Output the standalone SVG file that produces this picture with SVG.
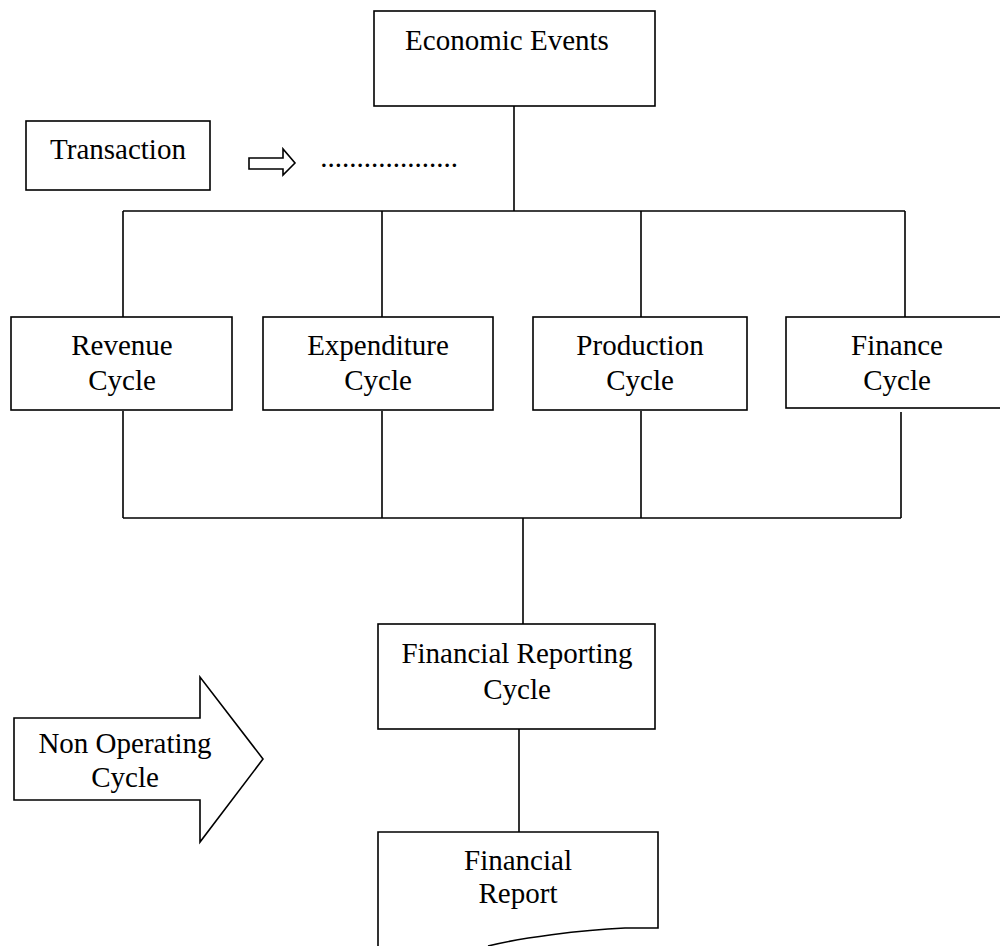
<svg xmlns="http://www.w3.org/2000/svg" width="1000" height="946" viewBox="0 0 1000 946">
<style>
.box{fill:#fff;stroke:#000;stroke-width:1.6}
.ln{fill:none;stroke:#000;stroke-width:1.6}
.t{font-family:"Liberation Serif","Times New Roman",serif;font-size:29px;fill:#000;text-anchor:middle}
</style>
<rect width="1000" height="946" fill="#fff"/>
<g id="connectors" class="ln">
<path d="M514,106 V211 M123,211 H905 M123,211 V317 M382,211 V317 M641,211 V317 M905,211 V317"/>
<path d="M123,411 V518 M382,411 V518 M641,411 V518 M901,412 V518 M123,518 H901 M523,518 V624"/>
<path d="M519,729 V832"/>
</g>
<g id="economic-events"><rect class="box" x="374" y="11" width="281" height="95"/><text class="t" x="507" y="50">Economic Events</text></g>
<g id="transaction"><rect class="box" x="26" y="121" width="184" height="69"/><text class="t" x="118" y="159">Transaction</text></g>
<g id="transaction-arrow"><path class="box" d="M249,158 H283 V149 L295,163 L283,175 V169 H249 Z"/></g>
<g id="dots"><text class="t" x="389" y="167">...................</text></g>
<g id="revenue"><rect class="box" x="11" y="317" width="221" height="93"/><text class="t" x="122" y="355">Revenue</text><text class="t" x="122" y="390">Cycle</text></g>
<g id="expenditure"><rect class="box" x="263" y="317" width="230" height="93"/><text class="t" x="378" y="355">Expenditure</text><text class="t" x="378" y="390">Cycle</text></g>
<g id="production"><rect class="box" x="533" y="317" width="214" height="93"/><text class="t" x="640" y="355">Production</text><text class="t" x="640" y="390">Cycle</text></g>
<g id="finance"><rect class="box" x="786" y="317" width="220" height="91"/><text class="t" x="897" y="355">Finance</text><text class="t" x="897" y="390">Cycle</text></g>
<g id="financial-reporting"><rect class="box" x="378" y="624" width="277" height="105"/><text class="t" x="517" y="663">Financial Reporting</text><text class="t" x="517" y="699">Cycle</text></g>
<g id="financial-report"><path class="box" d="M378,946 V832 H658 V928 H625 C580,930 520,938 488,946"/><text class="t" x="518" y="870">Financial</text><text class="t" x="518" y="903">Report</text></g>
<g id="non-operating"><path class="box" d="M14,718 H200 V677 L263,759 L200,842 V800 H14 Z"/><text class="t" x="125" y="753">Non Operating</text><text class="t" x="125" y="787">Cycle</text></g>
</svg>
